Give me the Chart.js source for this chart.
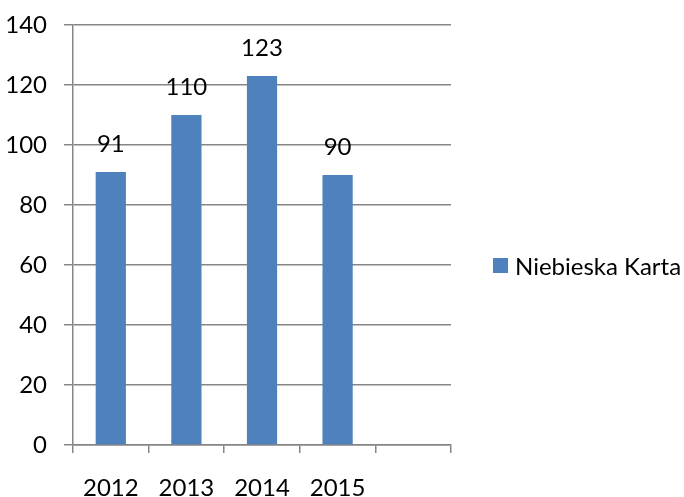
<!DOCTYPE html>
<html lang="pl">
<head>
  <meta charset="UTF-8">
  <title>Niebieska Karta</title>
  <style>
    html, body {
      margin: 0;
      padding: 0;
      background: #fff;
    }
    #wrap {
      width: 684px;
      height: 497px;
      position: relative;
    }
    #legend {
      position: absolute;
      left: 493px;
      top: 251px;
      display: flex;
      align-items: center;
      font-family: Lato, 'Liberation Sans', sans-serif;
      font-size: 24px;
      color: #000;
      white-space: nowrap;
    }
    #legend .box {
      width: 15px;
      height: 15px;
      margin-right: 7px;
    }
  </style>
</head>
<body>
  <div id="wrap">
    <canvas id="chart"></canvas>
    <div id="legend"></div>
  </div>

  <script src="https://cdn.jsdelivr.net/npm/chart.js"></script>
  <script>
    // dane z wykresu
    const years = ["2012", "2013", "2014", "2015", ""];
    const cases = [91, 110, 123, 90, null];
    const seriesName = "Niebieska Karta";
    const yMin = 0;
    const yMax = 140;
    const yStep = 20;

    const barColor = "#4F81BD";
    const gridColor = "#868686";
    const fontFamily = "Lato, 'Liberation Sans', sans-serif";
    const fontSize = 24;

    // etykiety wartości nad słupkami
    const valueLabels = {
      id: "valueLabels",
      afterDatasetsDraw(chart) {
        const ctx = chart.ctx;
        const meta = chart.getDatasetMeta(0);
        ctx.save();
        ctx.font = fontSize + "px " + fontFamily;
        ctx.fillStyle = "#000";
        ctx.textAlign = "center";
        ctx.textBaseline = "middle";
        meta.data.forEach((bar, i) => {
          const v = chart.data.datasets[0].data[i];
          if (v == null) return;
          ctx.fillText(String(v), bar.x, bar.y - 28);
        });
        ctx.restore();
      }
    };

    const ctx = document.getElementById("chart").getContext("2d");
    const chart = new Chart(ctx, {
      type: "bar",
      data: {
        labels: years,
        datasets: [{
          label: seriesName,
          data: cases,
          backgroundColor: barColor,
          borderWidth: 0,
          barPercentage: 0.4,
          categoryPercentage: 1.0
        }]
      },
      options: {
        responsive: true,
        maintainAspectRatio: false,
        devicePixelRatio: 1,
        animation: false,
        layout: {
          padding: { top: 25, right: 233, bottom: 0, left: 0 }
        },
        plugins: {
          legend: { display: false },
          tooltip: { enabled: false }
        },
        scales: {
          x: {
            grid: {
              offset: true,
              drawOnChartArea: false,
              drawTicks: true,
              tickLength: 8,
              color: gridColor,
              lineWidth: 1.5
            },
            border: { display: true, color: gridColor, width: 1.5 },
            ticks: {
              color: "#000",
              padding: 21,
              maxRotation: 0,
              font: { family: fontFamily, size: fontSize }
            },
            afterFit(scale) { scale.height = 52; }
          },
          y: {
            min: yMin,
            max: yMax,
            ticks: {
              stepSize: yStep,
              color: "#000",
              padding: 17,
              font: { family: fontFamily, size: fontSize }
            },
            grid: {
              color: gridColor,
              lineWidth: 1.5,
              tickLength: 9
            },
            border: { display: true, color: gridColor, width: 1.5 },
            afterFit(scale) {
              scale.width = 73;
              scale.paddingTop = 0;
              scale.paddingBottom = 0;
            }
          }
        }
      },
      plugins: [valueLabels]
    });

    // legenda obok wykresu
    const legend = document.getElementById("legend");
    chart.data.datasets.forEach(ds => {
      const box = document.createElement("span");
      box.className = "box";
      box.style.background = ds.backgroundColor;
      const text = document.createElement("span");
      text.textContent = ds.label;
      legend.appendChild(box);
      legend.appendChild(text);
    });
  </script>
</body>
</html>
